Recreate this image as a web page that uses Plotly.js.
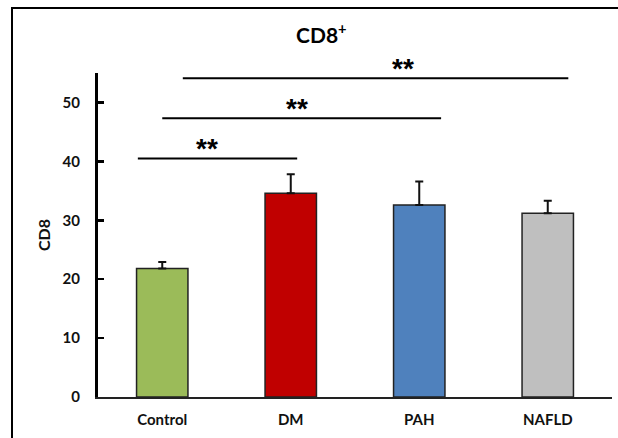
<!DOCTYPE html>
<html>
<head>
<meta charset="utf-8">
<script src="https://cdn.plot.ly/plotly-3.0.1.min.js"></script>
<style>
  html, body { margin:0; padding:0; width:618px; height:438px; overflow:hidden; background:#fff; }
  #frame { position:absolute; left:11px; top:7px; width:700px; height:500px;
           border-left:2px solid #000; border-top:2px solid #000; }
  #chart { position:absolute; left:0; top:0; width:618px; height:438px; }
</style>
</head>
<body>
<div id="frame"></div>
<div id="chart"></div>
<script>
// ---- data ----
const categories = ["Control", "DM", "PAH", "NAFLD"];
const cd8Mean = [21.8, 34.6, 32.6, 31.2];
const cd8Err  = [1.1, 3.2, 4.0, 2.1];
const barColors = ["#9BBB59", "#C00000", "#4F81BD", "#BFBFBF"];
const yTicks = [0, 10, 20, 30, 40, 50];
// significance brackets (category-index units) and heights
const sigStart = [-0.19, 0.0, 0.16];
const sigEnd   = [1.05, 2.17, 3.16];
const sigLevel = [40.5, 47.3, 54.1];
const sigStarX = [0.35, 1.05, 1.87];
const sigLabel = ["**", "**", "**"];

const fontFam = "Lato, 'Open Sans', sans-serif";
const starFam = "'Liberation Sans', Arial, sans-serif";
const txt = "#111";

const trace = {
  type: "bar",
  x: categories,
  y: cd8Mean,
  width: 0.4,
  marker: { color: barColors, line: { color: "#222", width: 1.5 } },
  error_y: { type: "data", array: cd8Err, arrayminus: cd8Err.map(() => 0), symmetric: false,
             color: "#111", thickness: 2, width: 4 },
  hoverinfo: "none"
};

const shapes = sigLevel.map((lv, i) => ({
  type: "line", xref: "x", yref: "y",
  x0: sigStart[i], x1: sigEnd[i], y0: lv, y1: lv,
  line: { color: "#000", width: 2 }
}));

const annotations = sigLevel.map((lv, i) => ({
  xref: "x", yref: "y", x: sigStarX[i], y: lv,
  text: "<b>" + sigLabel[i] + "</b>", showarrow: false,
  yanchor: "middle", yshift: 10,
  font: { family: starFam, size: 28, color: "#000" }
}));

const layout = {
  width: 618, height: 438,
  margin: { l: 98, r: 6, t: 73, b: 41 },
  paper_bgcolor: "rgba(0,0,0,0)",
  plot_bgcolor: "rgba(0,0,0,0)",
  showlegend: false,
  title: { text: "<b>CD8<sup>+</sup></b>", x: 0.52, xanchor: "center", y: 0.918, yanchor: "middle",
           font: { family: fontFam, size: 21, color: "#000" } },
  xaxis: {
    type: "category",
    range: [-0.5, 3.5],
    showline: true, linecolor: "#222", linewidth: 1.5,
    ticks: "", showgrid: false, zeroline: false,
    tickfont: { family: fontFam, size: 15, color: txt },
    ticklabelstandoff: 8,
    tickvals: categories,
    ticktext: categories.map(c => "<b>" + c + "</b>")
  },
  yaxis: {
    range: [0, 55],
    showline: true, linecolor: "#000", linewidth: 3,
    ticks: "inside", ticklen: 6, tickwidth: 2.5, tickcolor: "#000",
    tickvals: yTicks,
    ticktext: yTicks.map(v => "<b>" + v + "</b>"),
    showgrid: false, zeroline: false,
    tickfont: { family: fontFam, size: 15, color: txt },
    ticklabelstandoff: 12,
    title: { text: "<b>CD8</b>", standoff: 8, font: { family: fontFam, size: 16, color: txt } }
  },
  shapes: shapes,
  annotations: annotations
};

Plotly.newPlot("chart", [trace], layout, { displayModeBar: false, staticPlot: true });
</script>
</body>
</html>
